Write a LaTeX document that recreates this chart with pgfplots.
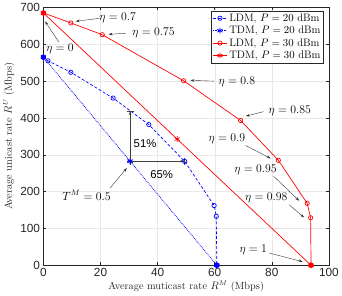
\documentclass[border=0pt]{standalone}
\usepackage{fontspec}
\usepackage{pgfplots}
\pgfplotsset{compat=1.18}
\usetikzlibrary{arrows.meta}
\newfontfamily\arial{Liberation Sans}
\definecolor{mred}{RGB}{255,0,0}
\definecolor{mblue}{RGB}{0,0,255}
\definecolor{axgray}{RGB}{38,38,38}
\begin{document}
\begin{tikzpicture}[
  ann/.style={-{Stealth[length=4pt,width=2.6pt]}, black!80, line width=0.4pt},
  capar/.style={{Bar[width=7pt]}-{Stealth[length=4pt,width=2.6pt]Bar[width=7pt]}, black!75, line width=0.45pt}]
\begin{axis}[
  scale only axis, width=289bp, height=261bp,
  xmin=0, xmax=100, ymin=0, ymax=700,
  xtick={0,20,...,100}, ytick={0,100,...,700},
  grid=major, major grid style={gray!18, line width=0.4pt},
  tick align=inside, axis line style={axgray, line width=0.5pt},
  tick style={axgray, line width=0.5pt},
  major tick length=3pt,
  ticklabel style={font=\arial\fontsize{12}{13}\selectfont, text=axgray},
  /pgf/number format/assume math mode=true,
  xlabel={Average muticast rate $R^M$ (Mbps)},
  ylabel={Average unicast rate $R^U$ (Mbps)},
  label style={font=\fontsize{10.5}{12}\selectfont, text=axgray},
  xlabel style={yshift=3pt},
  ylabel style={yshift=-1pt},
  legend style={at={(rel axis cs:0.982,0.988)}, anchor=north east,
    font=\fontsize{11}{12}\selectfont, draw=axgray, line width=0.5pt,
    inner sep=1pt, row sep=-0.5pt, cells={anchor=west},
    /tikz/every even column/.append style={column sep=0pt}},
  legend image code/.code={\draw[mark repeat=2,mark phase=2] plot coordinates {(0cm,0cm) (0.25cm,0cm) (0.5cm,0cm)};},
  legend cell align=left,
]
% LDM, P = 20 dBm
\addplot[mblue, densely dashed, line width=0.7pt, mark=o, mark size=2.2pt,
  mark options={solid}] coordinates {
  (0,565) (1.6,555) (9.6,524) (24.4,454) (36.9,382) (49.5,282) (59.8,162) (60.55,133) (60.75,0)};
\addlegendentry{LDM, $P=20$ dBm}
% TDM, P = 20 dBm
\addplot[mblue, densely dotted, line width=0.8pt, mark=asterisk, mark size=3pt,
  mark options={solid}] coordinates {(0,565) (30.35,282.5) (60.75,0)};
\addlegendentry{TDM, $P=20$ dBm}
% LDM, P = 30 dBm
\addplot[mred, line width=0.7pt, mark=o, mark size=2.2pt] coordinates {
  (0,685) (9.6,658) (20.6,626) (49.1,501) (69.1,393) (82.3,285) (92.4,168) (93.6,129) (93.75,0)};
\addlegendentry{LDM, $P=30$ dBm}
% TDM, P = 30 dBm
\addplot[mred, line width=0.7pt, mark=asterisk, mark size=3pt] coordinates {(0,685) (46.85,342.5) (93.75,0)};
\addlegendentry{TDM, $P=30$ dBm}
% end points
\addplot[mblue, only marks, mark=*, mark size=2.5pt, forget plot] coordinates {(0,565) (60.75,0)};
\addplot[mred, only marks, mark=*, mark size=2.5pt, forget plot] coordinates {(0,685) (93.75,0)};
\addplot[mblue, only marks, mark=asterisk, mark size=3pt, forget plot] coordinates {(30.35,282.5)};

% annotations
\def\fs{\fontsize{11.5}{13}\selectfont}
\node[font=\fs] at (axis cs:26.0,670.5) {$\eta=0.7$};
\draw[ann] (axis cs:19.6,670.5) -- (axis cs:11.3,662.5);
\node[font=\fs] at (axis cs:38.6,630) {$\eta=0.75$};
\draw[ann] (axis cs:28.9,630) -- (axis cs:22.8,627);
\node[font=\fs] at (axis cs:5.8,587) {$\eta=0$};
\draw[ann] (axis cs:5.4,606) -- (axis cs:0.6,662);
\node[font=\fs] at (axis cs:67.8,499) {$\eta=0.8$};
\draw[ann] (axis cs:59.8,500) -- (axis cs:51.5,502);
\node[font=\fs] at (axis cs:86.3,418.7) {$\eta=0.85$};
\draw[ann] (axis cs:77.1,417) -- (axis cs:70.9,405);
\node[font=\fs] at (axis cs:64.3,343.7) {$\eta=0.9$};
\draw[ann] (axis cs:70.9,325) -- (axis cs:79.6,290);
\node[font=\fs] at (axis cs:74.3,260) {$\eta=0.95$};
\draw[ann] (axis cs:80.6,242) -- (axis cs:89.6,175);
\node[font=\fs] at (axis cs:78.1,184) {$\eta=0.98$};
\draw[ann] (axis cs:86.1,164) -- (axis cs:91.3,130);
\node[font=\fs] at (axis cs:73.5,41) {$\eta=1$};
\draw[ann] (axis cs:79.2,33) -- (axis cs:90.8,9.6);
\node[font=\fs] at (axis cs:15.1,190) {$T^M=0.5$};
\draw[ann] (axis cs:23.4,210) -- (axis cs:29.2,264);
\draw[capar] (axis cs:30.35,282.5) -- (axis cs:30.35,419);
\draw[capar] (axis cs:30.35,282.5) -- (axis cs:49.5,282.5);
\node[font=\arial\fontsize{11.5}{12}\selectfont] at (axis cs:35.6,330) {51\%};
\node[font=\arial\fontsize{11.5}{12}\selectfont] at (axis cs:41.4,245) {65\%};
\end{axis}
\end{tikzpicture}
\end{document}
